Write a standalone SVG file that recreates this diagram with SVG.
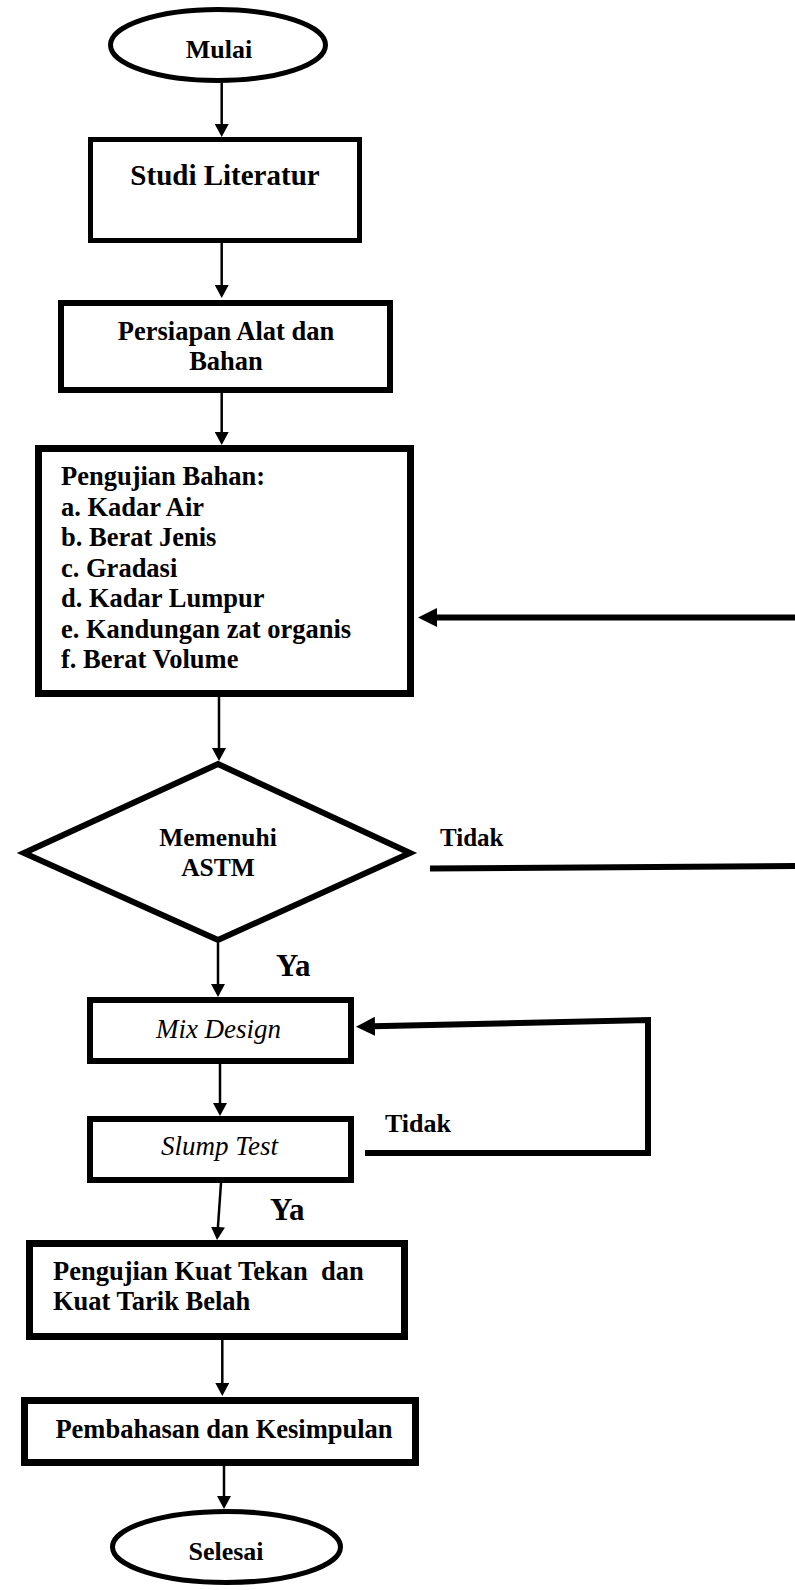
<svg xmlns="http://www.w3.org/2000/svg" width="795" height="1590" viewBox="0 0 795 1590">
<defs>
<style>
.n{fill:#fff;stroke:#000;stroke-linejoin:miter}
.t{font-family:"Liberation Serif","Times New Roman",serif;font-weight:bold;fill:#000}
.i{font-family:"Liberation Serif","Times New Roman",serif;font-style:italic;fill:#000}
.c{text-anchor:middle}
.ln{fill:none;stroke:#000;stroke-width:2.5}
.lb{fill:none;stroke:#000;stroke-width:6;stroke-linejoin:miter}
</style>
<marker id="ah" markerUnits="userSpaceOnUse" markerWidth="13" markerHeight="14" refX="2" refY="7" orient="auto">
<path d="M0,0 L13,7 L0,14 z" fill="#000"/>
</marker>
<marker id="ahb" markerUnits="userSpaceOnUse" markerWidth="19" markerHeight="19" refX="2" refY="9.5" orient="auto">
<path d="M0,0 L19,9.5 L0,19 z" fill="#000"/>
</marker>
</defs>
<rect width="795" height="1590" fill="#fff"/>
<g id="connectors">
<line class="ln" x1="221.7" y1="83" x2="221.7" y2="126" marker-end="url(#ah)"/>
<line class="ln" x1="221.7" y1="243" x2="221.7" y2="287" marker-end="url(#ah)"/>
<line class="ln" x1="221.7" y1="393" x2="221.7" y2="434" marker-end="url(#ah)"/>
<line class="ln" x1="219" y1="697" x2="219" y2="750" marker-end="url(#ah)"/>
<line class="ln" x1="218" y1="943" x2="218" y2="986" marker-end="url(#ah)"/>
<line class="ln" x1="220" y1="1064" x2="220" y2="1105" marker-end="url(#ah)"/>
<line class="ln" x1="221" y1="1183" x2="217.8" y2="1229" marker-end="url(#ah)"/>
<line class="ln" x1="222.3" y1="1340" x2="222.3" y2="1385" marker-end="url(#ah)"/>
<line class="ln" x1="224" y1="1466" x2="224" y2="1498" marker-end="url(#ah)"/>
<line class="lb" x1="430" y1="868.5" x2="795" y2="866"/>
<line class="lb" x1="795" y1="617.5" x2="435" y2="617.5" marker-end="url(#ahb)"/>
<polyline class="lb" points="365,1153 648,1153 648,1020 373,1026.3" marker-end="url(#ahb)"/>
<text class="t" x="440" y="846" font-size="25">Tidak</text>
<text class="t" x="276" y="976" font-size="31">Ya</text>
<text class="t" x="385" y="1132" font-size="26">Tidak</text>
<text class="t" x="270" y="1220" font-size="31">Ya</text>
</g>
<g id="mulai">
<ellipse class="n" cx="218" cy="45" rx="107.5" ry="35.5" stroke-width="5"/>
<text class="t c" x="219" y="58" font-size="26">Mulai</text>
</g>
<g id="studi">
<rect class="n" x="90.5" y="139.5" width="269" height="101" stroke-width="5"/>
<text class="t c" x="225" y="185" font-size="29">Studi Literatur</text>
</g>
<g id="persiapan">
<rect class="n" x="61" y="303" width="329" height="87" stroke-width="6"/>
<text class="t c" x="226" y="340" font-size="26.5">Persiapan Alat dan</text>
<text class="t c" x="226" y="370" font-size="26.5">Bahan</text>
</g>
<g id="pengujian">
<rect class="n" x="38.5" y="448.5" width="372" height="245" stroke-width="7"/>
<text class="t" x="61" y="485" font-size="26.5">Pengujian Bahan:</text>
<text class="t" x="61" y="515.5" font-size="26.5">a. Kadar Air</text>
<text class="t" x="61" y="546" font-size="26.5">b. Berat Jenis</text>
<text class="t" x="61" y="576.5" font-size="26.5">c. Gradasi</text>
<text class="t" x="61" y="607" font-size="26.5">d. Kadar Lumpur</text>
<text class="t" x="61" y="637.5" font-size="26.5">e. Kandungan zat organis</text>
<text class="t" x="61" y="668" font-size="26.5">f. Berat Volume</text>
</g>
<g id="astm">
<polygon class="n" points="218,764 410,853 218,940 24,853" stroke-width="6"/>
<text class="t c" x="218" y="846" font-size="25.5">Memenuhi</text>
<text class="t c" x="218" y="876" font-size="25.5">ASTM</text>
</g>
<g id="mix">
<rect class="n" x="90" y="1000" width="261" height="61" stroke-width="6"/>
<text class="i c" x="218.5" y="1038" font-size="27">Mix Design</text>
</g>
<g id="slump">
<rect class="n" x="90" y="1119" width="261" height="61" stroke-width="6"/>
<text class="i c" x="219.5" y="1155" font-size="27">Slump Test</text>
</g>
<g id="kuat">
<rect class="n" x="29.5" y="1243.5" width="375" height="93" stroke-width="7"/>
<text class="t" x="53" y="1280" font-size="26.5" xml:space="preserve">Pengujian Kuat Tekan  dan</text>
<text class="t" x="53" y="1310" font-size="26.5">Kuat Tarik Belah</text>
</g>
<g id="pembahasan">
<rect class="n" x="24.5" y="1400.5" width="391" height="62" stroke-width="7"/>
<text class="t c" x="224" y="1438" font-size="26.5">Pembahasan dan Kesimpulan</text>
</g>
<g id="selesai">
<ellipse class="n" cx="226.5" cy="1547" rx="114" ry="35.5" stroke-width="5"/>
<text class="t c" x="226" y="1560" font-size="26">Selesai</text>
</g>
</svg>
